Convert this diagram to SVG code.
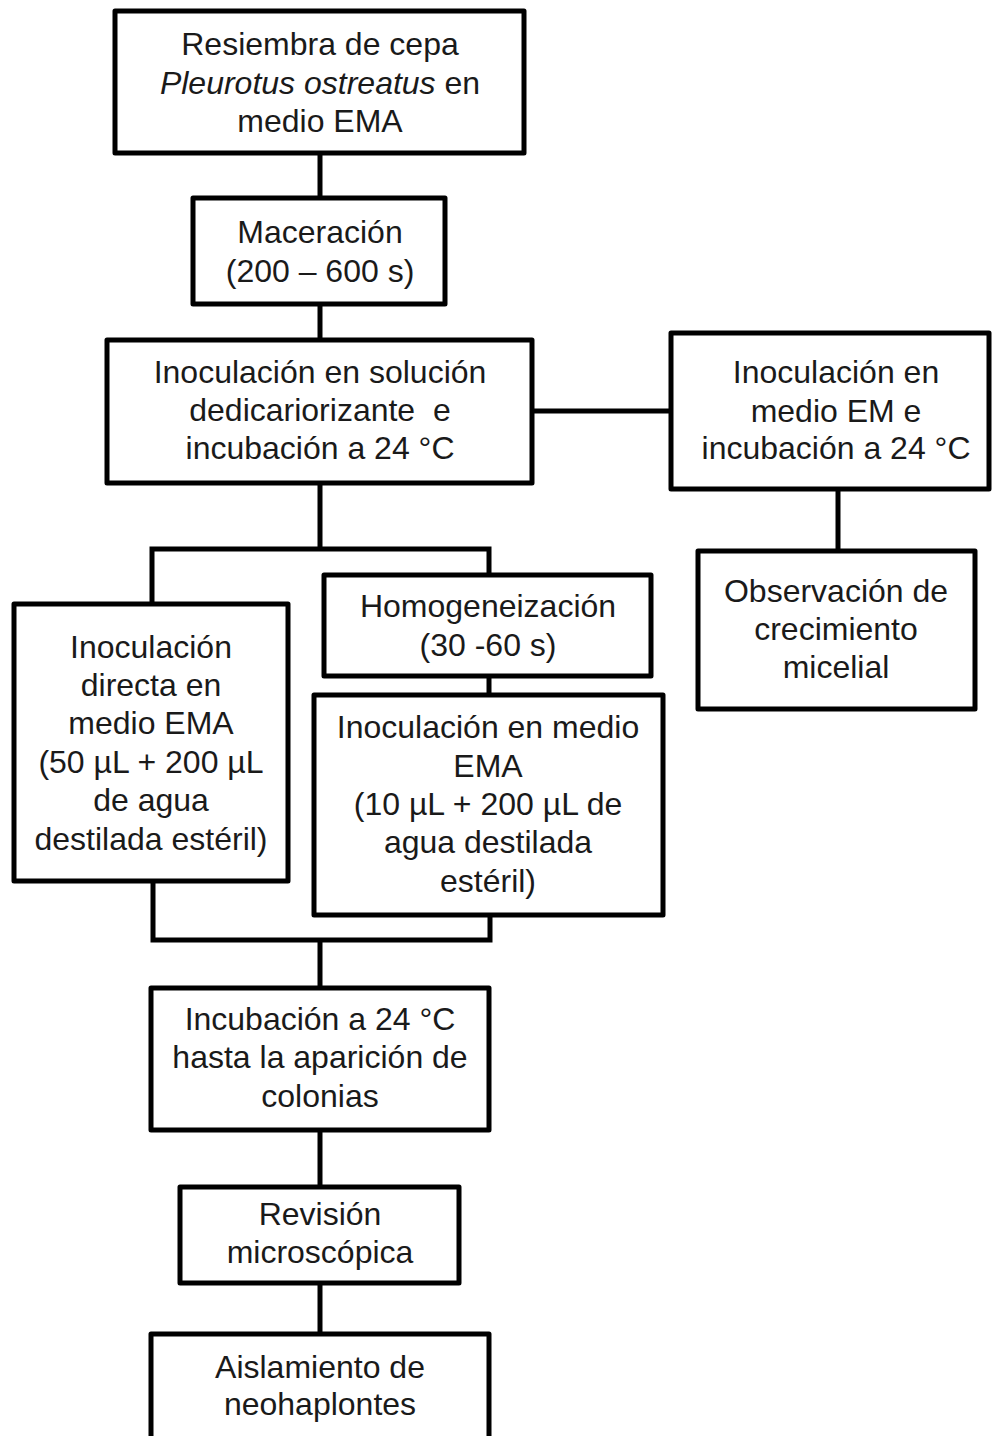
<svg xmlns="http://www.w3.org/2000/svg" width="992" height="1436" viewBox="0 0 992 1436">
<style>
.box{fill:#fff;stroke:#000;stroke-width:5;stroke-linejoin:round}
.con{fill:none;stroke:#000;stroke-width:5;stroke-linecap:square}
text{font-family:"Liberation Sans",Arial,sans-serif;font-size:32px;fill:#1a1a1a;text-anchor:middle}
</style>
<rect width="992" height="1436" fill="#fff"/>
<g id="connectors">
<path class="con" d="M320,154V198"/>
<path class="con" d="M320,304V340"/>
<path class="con" d="M532,411H671"/>
<path class="con" d="M838,489V551"/>
<path class="con" d="M320,483V549M152,604V549H489V575"/>
<path class="con" d="M489,676V695"/>
<path class="con" d="M153,881V940H490V915M320,940V988"/>
<path class="con" d="M320,1130V1187"/>
<path class="con" d="M320,1283V1334"/>
</g>
<g id="n1"><rect class="box" x="115" y="11" width="409" height="142"/>
<text x="320" y="55">Resiembra de cepa</text>
<text x="320" y="94"><tspan font-style="italic">Pleurotus ostreatus</tspan> en</text>
<text x="320" y="132">medio EMA</text></g>
<g id="n2"><rect class="box" x="193" y="198" width="252" height="106"/>
<text x="320" y="243">Maceración</text>
<text x="320" y="282">(200 – 600 s)</text></g>
<g id="n3"><rect class="box" x="107" y="340" width="425" height="143"/>
<text x="320" y="383">Inoculación en solución</text>
<text x="320" y="421">dedicariorizante&#160; e</text>
<text x="320" y="459">incubación a 24 °C</text></g>
<g id="n4"><rect class="box" x="671" y="333" width="318" height="156"/>
<text x="836" y="383">Inoculación en</text>
<text x="836" y="422">medio EM e</text>
<text x="836" y="459">incubación a 24 °C</text></g>
<g id="n5"><rect class="box" x="698" y="551" width="277" height="158"/>
<text x="836" y="602">Observación de</text>
<text x="836" y="640">crecimiento</text>
<text x="836" y="678">micelial</text></g>
<g id="n6"><rect class="box" x="14" y="604" width="274" height="277"/>
<text x="151" y="658">Inoculación</text>
<text x="151" y="696">directa en</text>
<text x="151" y="734">medio EMA</text>
<text x="151" y="773">(50 µL + 200 µL</text>
<text x="151" y="811">de agua</text>
<text x="151" y="850">destilada estéril)</text></g>
<g id="n7"><rect class="box" x="324" y="575" width="327" height="101"/>
<text x="488" y="617">Homogeneización</text>
<text x="488" y="656">(30 -60 s)</text></g>
<g id="n8"><rect class="box" x="314" y="695" width="349" height="220"/>
<text x="488" y="738">Inoculación en medio</text>
<text x="488" y="777">EMA</text>
<text x="488" y="815">(10 µL + 200 µL de</text>
<text x="488" y="853">agua destilada</text>
<text x="488" y="892">estéril)</text></g>
<g id="n9"><rect class="box" x="151" y="988" width="338" height="142"/>
<text x="320" y="1030">Incubación a 24 °C</text>
<text x="320" y="1068">hasta la aparición de</text>
<text x="320" y="1107">colonias</text></g>
<g id="n10"><rect class="box" x="180" y="1187" width="279" height="96"/>
<text x="320" y="1225">Revisión</text>
<text x="320" y="1263">microscópica</text></g>
<g id="n11"><rect class="box" x="151" y="1334" width="338" height="130"/>
<text x="320" y="1378">Aislamiento de</text>
<text x="320" y="1415">neohaplontes</text></g>
</svg>
